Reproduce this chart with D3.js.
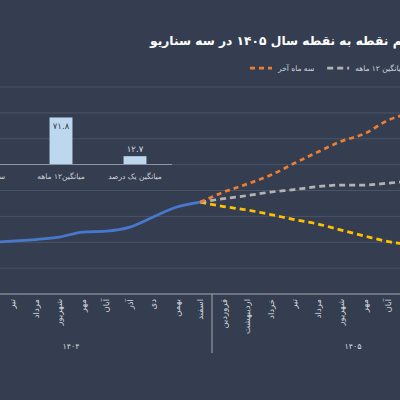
<!DOCTYPE html>
<html>
<head>
<meta charset="utf-8">
<script src="https://cdn.jsdelivr.net/npm/d3@7"></script>
<style>
  html, body { margin: 0; padding: 0; background: #343e50; }
  svg { display: block; font-family: "DejaVu Sans", sans-serif; }
</style>
</head>
<body>
<div class="chart"></div>
<script>
// data
var months = ["فروردین", "اردیبهشت", "خرداد", "تیر", "مرداد", "شهریور", "مهر", "آبان", "آذر", "دی", "بهمن", "اسفند"];
var years = ["۱۴۰۴", "۱۴۰۵"];
var actual1404 = [37.5, 38.8, 39.8, 40.9, 42.1, 44.0, 47.9, 48.6, 51.7, 59.5, 67.2, 71.0];
var lastThreeMonths = [78.8, 85.0, 91.9, 101.0, 109.7, 118.0, 124.0, 134.4, 140.0, 144.0, 148.0, 151.0];
var twelveMonthAvg = [73.7, 76.1, 78.8, 80.7, 83.0, 84.2, 84.2, 85.7, 87.3, 88.0, 88.5, 89.0];
var onePercentAvg = [67.6, 64.9, 61.4, 57.5, 54.1, 49.4, 44.8, 40.5, 37.8, 35.0, 33.0, 31.0];
var yTicks = [0, 20, 40, 60, 80, 100, 120, 140, 160];

var insetCats = ["سه ماه آخر", "میانگین۱۲ ماهه", "میانگین یک درصد"];
var insetVals = [150.0, 71.8, 12.7];

var title = "تورم نقطه به نقطه سال ۱۴۰۵ در سه سناریو";

function fa(s) {
    return String(s).replace(/[0-9]/g, function(d) { return "۰۱۲۳۴۵۶۷۸۹"[+d]; });
}

var W = 400, H = 400;
var svg = d3.select(".chart").append("svg")
    .attr("width", W)
    .attr("height", H);

svg.append("rect").attr("width", W).attr("height", H).attr("fill", "#343e50");

//Title (overflows right edge like the cropped original)
//size it so the part after "تور" fills the visible width
var probe = svg.append("text")
    .attr("font-size", 15)
    .attr("font-weight", "bold")
    .text(title.slice(3));
var titleSize = 15 * 252 / probe.node().getComputedTextLength();
probe.remove();

svg.append("text")
    .attr("x", 150)
    .attr("y", 45)
    .attr("fill", "#ffffff")
    .attr("font-size", titleSize)
    .attr("font-weight", "bold")
    .text(title);

//Scales
var cats = [];
years.forEach(function(y) { months.forEach(function(m) { cats.push(y + "|" + m); }); });

var x = d3.scaleBand().domain(cats).range([-70, 494]);
var y = d3.scaleLinear().domain([0, 160]).range([294, 87]);

//Gridlines
svg.append("g")
    .selectAll("line")
    .data(yTicks.slice(1))
    .join("line")
    .attr("x1", 0).attr("x2", W)
    .attr("y1", d => y(d)).attr("y2", d => y(d))
    .attr("stroke", "#4a5467")
    .attr("stroke-width", 1);

//Inset bar chart
var ix = d3.scaleBand().domain(insetCats).range([-50, 172]).paddingInner(0.69).paddingOuter(0.345);
var iy = d3.scaleLinear().domain([0, 120]).range([164.5, 85.9]);

svg.append("g")
    .selectAll("rect")
    .data(insetVals)
    .join("rect")
    .attr("x", (d, i) => ix(insetCats[i]))
    .attr("width", ix.bandwidth())
    .attr("y", d => iy(d))
    .attr("height", d => iy(0) - iy(d))
    .attr("fill", "#bdd7ee");

svg.append("line")
    .attr("x1", -50).attr("x2", 172)
    .attr("y1", iy(0)).attr("y2", iy(0))
    .attr("stroke", "#8f96a3")
    .attr("stroke-width", 1);

svg.append("g")
    .selectAll("text")
    .data(insetVals)
    .join("text")
    .attr("x", (d, i) => ix(insetCats[i]) + ix.bandwidth() / 2)
    .attr("y", d => (iy(0) - iy(d) > 20 ? iy(d) + 12 : iy(d) - 4))
    .attr("text-anchor", "middle")
    .attr("font-size", 8.5)
    .attr("fill", d => (iy(0) - iy(d) > 20 ? "#3b4354" : "#d9dce1"))
    .text(d => fa(d.toFixed(1)));

svg.append("g")
    .selectAll("text")
    .data(insetCats)
    .join("text")
    .attr("x", d => ix(d) + ix.bandwidth() / 2)
    .attr("y", 179)
    .attr("text-anchor", "middle")
    .attr("font-size", 7.5)
    .attr("fill", "#cfd3da")
    .text(d => d);

//Axis baseline
svg.append("line")
    .attr("x1", 0).attr("x2", W)
    .attr("y1", y(0)).attr("y2", y(0))
    .attr("stroke", "#a3a8b2")
    .attr("stroke-width", 1);

//Month labels (vertical)
svg.append("g")
    .selectAll("text")
    .data(cats)
    .join("text")
    .attr("transform", d => "translate(" + (x(d) + x.bandwidth() / 2 + 3) + ",299) rotate(-90)")
    .attr("text-anchor", "end")
    .attr("font-size", 8.5)
    .attr("fill", "#d3d6dc")
    .text(d => d.split("|")[1]);

//Year groups
svg.append("g")
    .selectAll("line")
    .data(years.concat(["end"]))
    .join("line")
    .attr("x1", (d, i) => x(cats[Math.min(i * 12, cats.length - 1)]) + (i == years.length ? x.bandwidth() : 0))
    .attr("x2", (d, i) => x(cats[Math.min(i * 12, cats.length - 1)]) + (i == years.length ? x.bandwidth() : 0))
    .attr("y1", y(0)).attr("y2", 353)
    .attr("stroke", "#a3a8b2")
    .attr("stroke-width", 1);

svg.append("g")
    .selectAll("text")
    .data(years)
    .join("text")
    .attr("x", (d, i) => (x(cats[i * 12]) + x(cats[i * 12 + 11]) + x.bandwidth()) / 2)
    .attr("y", 349)
    .attr("text-anchor", "middle")
    .attr("font-size", 8)
    .attr("fill", "#d3d6dc")
    .text(d => d);

//Lines
var cx = d => x(d) + x.bandwidth() / 2;
var line = d3.line()
    .x(d => cx(d[0]))
    .y(d => y(d[1]))
    .curve(d3.curveMonotoneX);

var lastActual = [cats[11], actual1404[11]];
function scenario(vals) {
    return [lastActual].concat(vals.map((v, i) => [cats[12 + i], v]));
}

var series = [
    { name: "میانگین یک درصد", data: scenario(onePercentAvg), color: "#ffc000", dash: "6,4" },
    { name: "میانگین ۱۲ ماهه", data: scenario(twelveMonthAvg), color: "#b3b3b3", dash: "6,4" },
    { name: "سه ماه آخر", data: scenario(lastThreeMonths), color: "#ed7d31", dash: "5,4" }
];

svg.append("path")
    .datum(actual1404.map((v, i) => [cats[i], v]))
    .attr("d", line)
    .attr("fill", "none")
    .attr("stroke", "#4778cc")
    .attr("stroke-width", 2.75);

svg.append("g")
    .selectAll("path")
    .data(series)
    .join("path")
    .attr("d", d => line(d.data))
    .attr("fill", "none")
    .attr("stroke", d => d.color)
    .attr("stroke-width", 2.75)
    .attr("stroke-dasharray", d => d.dash);

//Legend (only the entries that fall inside the frame)
var legendOrder = [series[2], series[1]];
var lx = 250;
legendOrder.forEach(function(s) {
    var g = svg.append("g").attr("transform", "translate(" + lx + ",68)");
    g.append("line")
        .attr("x1", 0).attr("x2", 22)
        .attr("y1", 0).attr("y2", 0)
        .attr("stroke", s.color)
        .attr("stroke-width", 2.75)
        .attr("stroke-dasharray", s.dash);
    var t = g.append("text")
        .attr("x", 28)
        .attr("y", 3)
        .attr("font-size", 7.5)
        .attr("fill", "#d3d6dc")
        .text(s.name);
    lx += 28 + t.node().getComputedTextLength() + 13;
});
</script>
</body>
</html>
